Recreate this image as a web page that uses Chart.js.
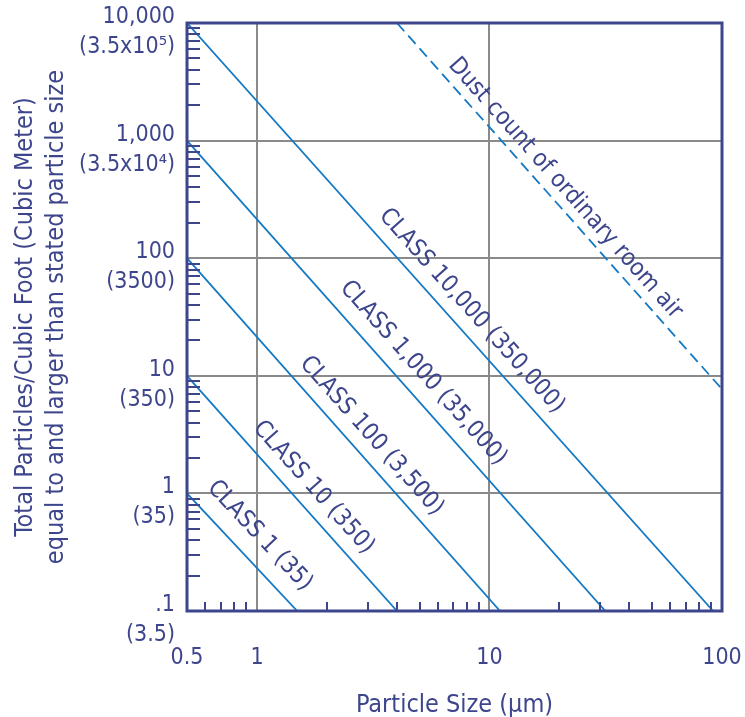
<!DOCTYPE html>
<html>
<head>
<meta charset="utf-8">
<script src="https://cdn.jsdelivr.net/npm/chart.js@4.4.1/dist/chart.umd.min.js"></script>
<style>
    html, body { margin: 0; padding: 0; background: #fff; }
    #wrap { width: 745px; height: 717px; }
</style>
</head>
<body>
<div id="wrap"><canvas id="chart"></canvas></div>
<script>
// class lines (FED-STD-209)
const classLabels = ['CLASS 1 (35)', 'CLASS 10 (350)', 'CLASS 100 (3,500)', 'CLASS 1,000 (35,000)', 'CLASS 10,000 (350,000)'];
const classStartSize = [0.5, 0.5, 0.5, 0.5, 0.5];
const classStartCount = [1, 10, 100, 1000, 10000];
const classEndSize = [1.49, 4.0, 11.1, 31.5, 91.6];
const classEndCount = [0.1, 0.1, 0.1, 0.1, 0.1];

// ordinary room air
const dustLabel = 'Dust count of ordinary room air';
const dustSize = [4.0, 100];
const dustCount = [10000, 7.7];

// axes
const xMajor = [0.5, 1, 10, 100];
const xMajorLabels = ['0.5', '1', '10', '100'];
const xMinor = [0.6, 0.7, 0.8, 0.9, 2, 3, 4, 5, 6, 7, 8, 9, 20, 30, 40, 50, 60, 70, 80, 90];
const yMajor = [0.1, 1, 10, 100, 1000, 10000];
const yMajorLabels = [['.1', '(3.5)'], ['1', '(35)'], ['10', '(350)'], ['100', '(3500)'], ['1,000', '(3.5x10\u2074)'], ['10,000', '(3.5x10\u2075)']];
const yMinor = [0.2, 0.3, 0.4, 0.5, 0.6, 0.7, 0.8, 0.9, 2, 3, 4, 5, 6, 7, 8, 9,
    20, 30, 40, 50, 60, 70, 80, 90, 200, 300, 400, 500, 600, 700, 800, 900,
    2000, 3000, 4000, 5000, 6000, 7000, 8000, 9000];

const xTitle = 'Particle Size (\u00b5m)';
const yTitle = ['Total Particles/Cubic Foot (Cubic Meter)', 'equal to and larger than stated particle size'];

const navy = '#3d468c';
const blue = '#1479c4';
const grey = '#8a8a8a';
const family = "'DejaVu Sans Condensed', 'DejaVu Sans', sans-serif";

// where the line labels sit: x value along the line, distance from the line (px)
const lineLabelSpots = [
    {ds: 0, at: 0.863, off: 24},
    {ds: 1, at: 1.51, off: 20},
    {ds: 2, at: 2.68, off: 20},
    {ds: 3, at: 4.41, off: 22},
    {ds: 4, at: 7.22, off: 20},
    {ds: 5, at: 18.8, off: 16}
];

let datasets = classLabels.map(function(name, i){
    return {
        label: name,
        data: [{x: classStartSize[i], y: classStartCount[i]}, {x: classEndSize[i], y: classEndCount[i]}],
        borderColor: blue,
        borderWidth: 1.8,
        showLine: true,
        pointRadius: 0
    };
});
datasets.push({
    label: dustLabel,
    data: [{x: dustSize[0], y: dustCount[0]}, {x: dustSize[1], y: dustCount[1]}],
    borderColor: blue,
    borderWidth: 1.8,
    borderDash: [11, 6],
    showLine: true,
    pointRadius: 0
});

const framePlugin = {
    id: 'frame',
    afterDatasetsDraw: function(chart){
        let c = chart.ctx;
        let a = chart.chartArea;
        let xs = chart.scales.x;
        let ys = chart.scales.y;
        c.save();
        c.strokeStyle = navy;
        c.lineWidth = 2;
        c.beginPath();
        xMinor.forEach(function(v){
            let px = Math.round(xs.getPixelForValue(v));
            c.moveTo(px, a.bottom);
            c.lineTo(px, a.bottom - 9);
        });
        yMinor.forEach(function(v){
            let py = Math.round(ys.getPixelForValue(v));
            c.moveTo(a.left, py);
            c.lineTo(a.left + 13, py);
        });
        c.stroke();
        c.lineWidth = 3;
        c.strokeRect(a.left, a.top, a.right - a.left, a.bottom - a.top);

        // labels along the lines
        c.fillStyle = navy;
        c.font = '24px ' + family;
        c.textAlign = 'center';
        c.textBaseline = 'middle';
        lineLabelSpots.forEach(function(s){
            let pts = chart.getDatasetMeta(s.ds).data;
            let p0 = pts[0], p1 = pts[1];
            let ax = xs.getPixelForValue(s.at);
            let t = (ax - p0.x) / (p1.x - p0.x);
            let ay = p0.y + t * (p1.y - p0.y);
            let ang = Math.atan2(p1.y - p0.y, p1.x - p0.x);
            c.save();
            c.translate(ax + s.off * Math.sin(ang), ay - s.off * Math.cos(ang));
            c.rotate(ang);
            c.fillText(chart.data.datasets[s.ds].label, 0, 0);
            c.restore();
        });
        c.restore();
    }
};

new Chart(document.getElementById('chart'), {
    type: 'scatter',
    data: {datasets: datasets},
    plugins: [framePlugin],
    options: {
        responsive: true,
        maintainAspectRatio: false,
        animation: false,
        layout: {padding: {left: 0, top: 23, right: 23, bottom: 0}},
        plugins: {legend: {display: false}, tooltip: {enabled: false}},
        scales: {
            x: {
                type: 'logarithmic',
                min: 0.5,
                max: 100,
                afterBuildTicks: function(s){
                    s.ticks = xMajor.concat(xMinor).sort(function(a, b){ return a - b; }).map(function(v){ return {value: v}; });
                },
                afterFit: function(s){
                    s.height = 106;
                    s.paddingLeft = 0;
                    s.paddingRight = 0;
                },
                ticks: {
                    autoSkip: false,
                    maxRotation: 0,
                    padding: 33,
                    color: navy,
                    font: {family: family, size: 23},
                    callback: function(v){
                        let i = xMajor.indexOf(v);
                        return i >= 0 ? xMajorLabels[i] : '';
                    }
                },
                grid: {
                    drawTicks: false,
                    lineWidth: 2,
                    color: function(ctx){
                        let v = ctx.tick ? ctx.tick.value : null;
                        return (v === 1 || v === 10) ? grey : 'rgba(0,0,0,0)';
                    }
                },
                border: {display: false},
                title: {
                    display: true,
                    text: xTitle,
                    color: navy,
                    font: {family: family, size: 25, lineHeight: '24px'},
                    padding: {top: 0, bottom: 0}
                }
            },
            y: {
                type: 'logarithmic',
                min: 0.1,
                max: 10000,
                afterBuildTicks: function(s){
                    s.ticks = yMajor.concat(yMinor).sort(function(a, b){ return a - b; }).map(function(v){ return {value: v}; });
                },
                afterFit: function(s){
                    s.width = 187;
                    s.paddingTop = 0;
                    s.paddingBottom = 0;
                },
                ticks: {
                    autoSkip: false,
                    padding: 12,
                    labelOffset: 9,
                    color: navy,
                    font: {family: family, size: 23, lineHeight: '30px'},
                    callback: function(v){
                        let i = yMajor.indexOf(v);
                        return i >= 0 ? yMajorLabels[i] : '';
                    }
                },
                grid: {
                    drawTicks: false,
                    lineWidth: 2,
                    color: function(ctx){
                        let v = ctx.tick ? ctx.tick.value : null;
                        return (v === 1 || v === 10 || v === 100 || v === 1000) ? grey : 'rgba(0,0,0,0)';
                    }
                },
                border: {display: false},
                title: {
                    display: true,
                    text: yTitle,
                    color: navy,
                    font: {family: family, size: 25, lineHeight: '31px'},
                    padding: {top: 10, bottom: 0}
                }
            }
        }
    }
});
</script>
</body>
</html>
